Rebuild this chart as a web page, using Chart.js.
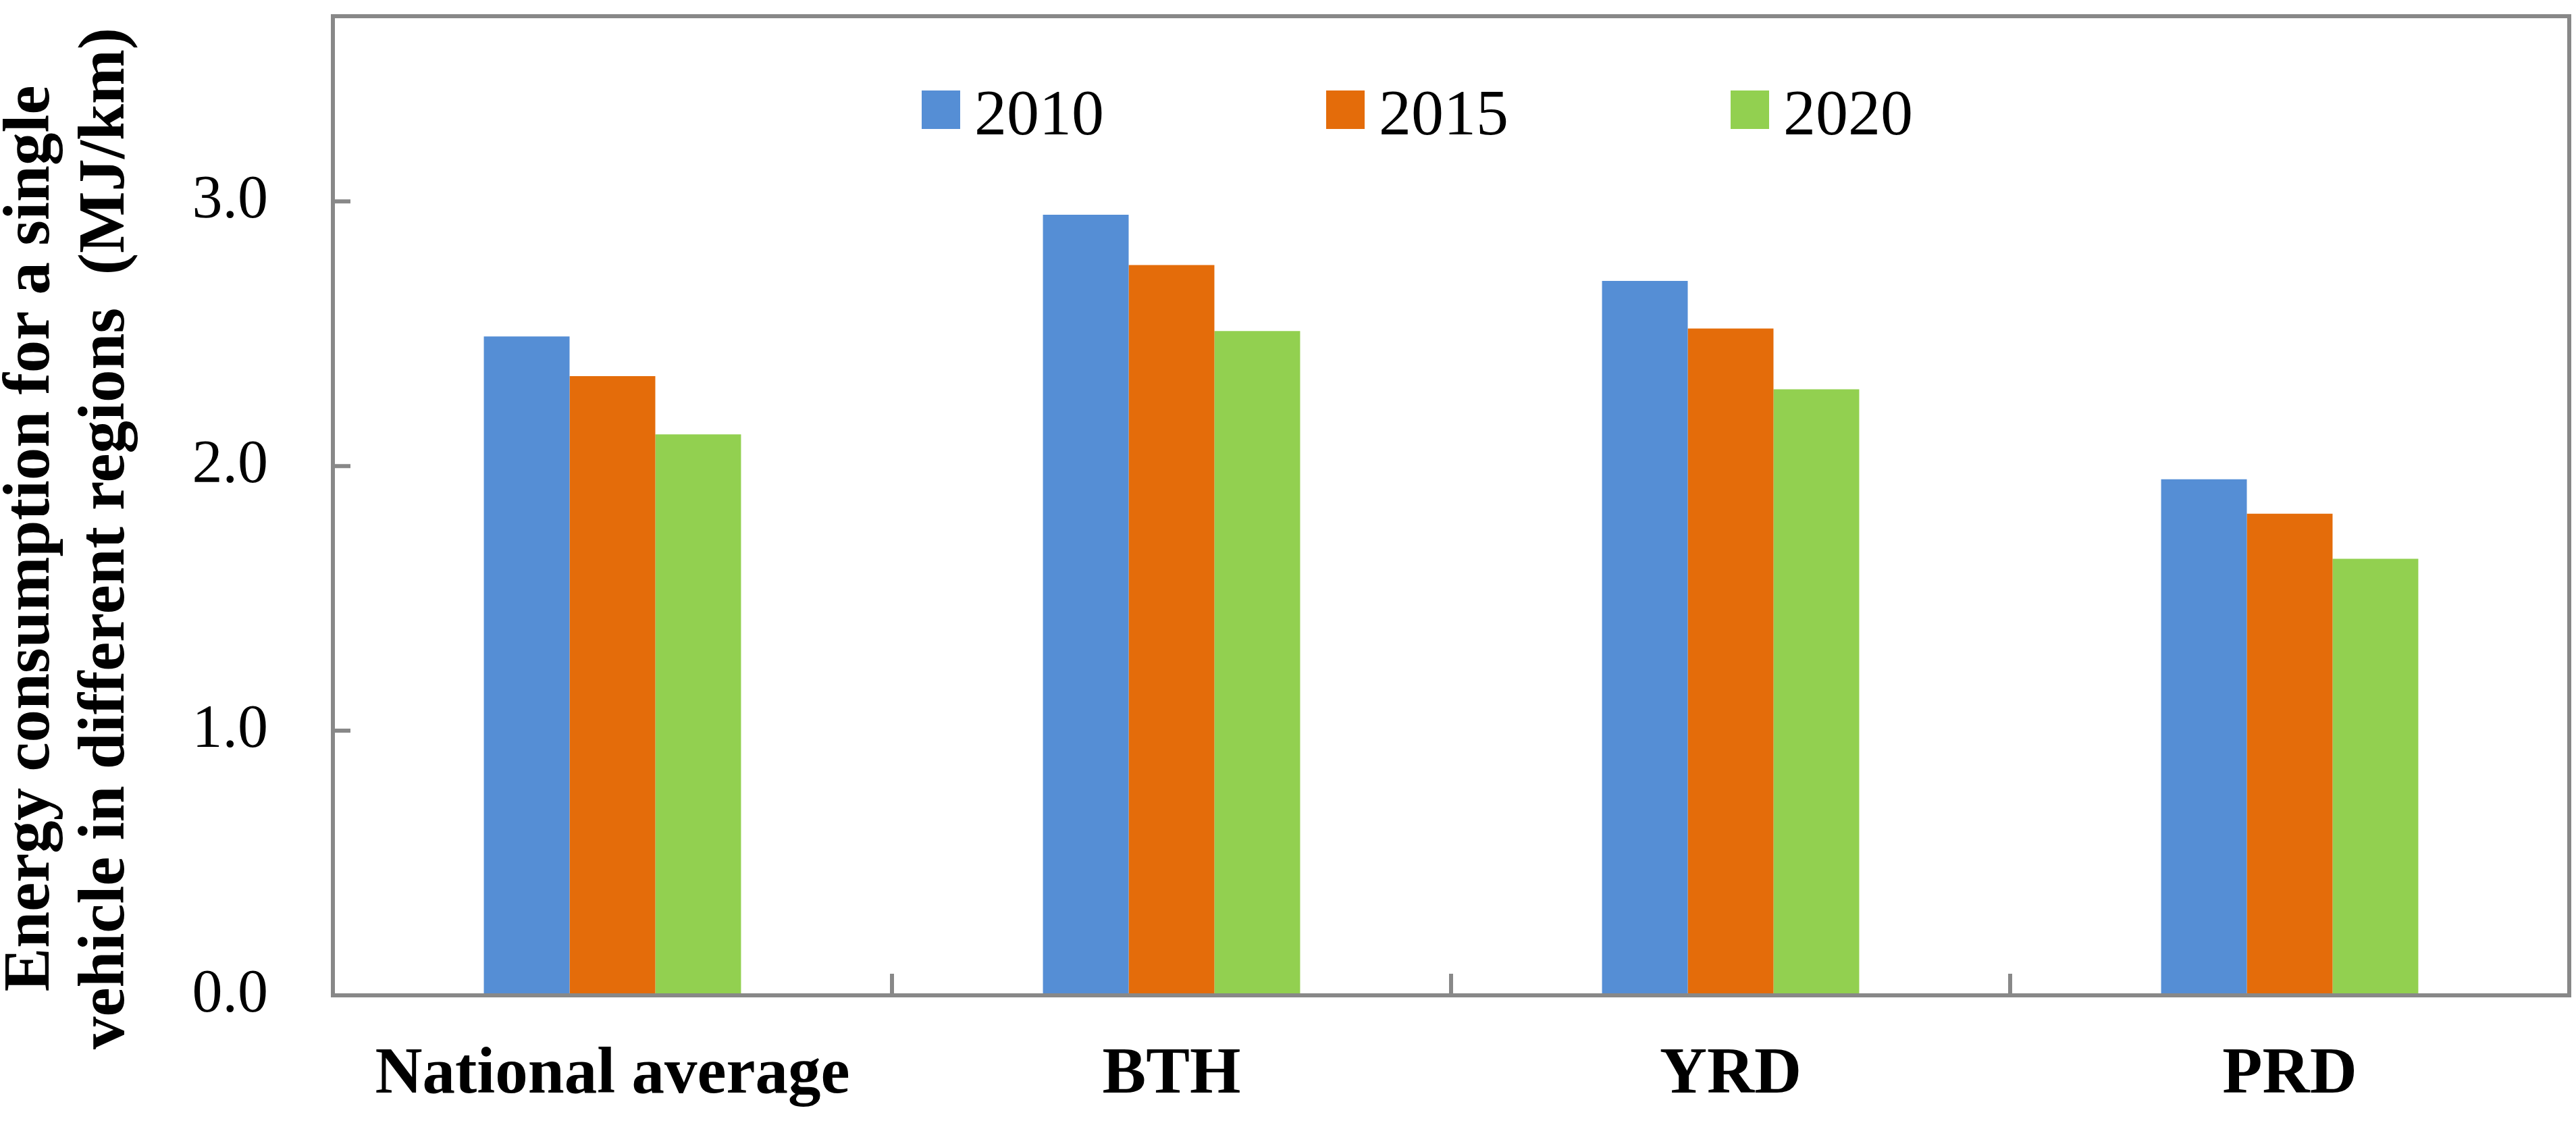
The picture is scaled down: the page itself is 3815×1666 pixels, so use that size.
<!DOCTYPE html>
<html>
<head>
<meta charset="utf-8">
<script src="https://cdn.jsdelivr.net/npm/chart.js@4.4.1/dist/chart.umd.min.js"></script>
<style>
  html, body { margin: 0; padding: 0; background: #fff; }
  canvas { display: block; }
</style>
</head>
<body>
<canvas id="energyChart" width="3815" height="1666"></canvas>
<script>
var regions = ['National average', 'BTH', 'YRD', 'PRD'];
var years = ['2010', '2015', '2020'];
var values2010 = [2.49, 2.95, 2.70, 1.95];
var values2015 = [2.34, 2.76, 2.52, 1.82];
var values2020 = [2.12, 2.51, 2.29, 1.65];
var yTicks = [0, 1, 2, 3];
var yMax = 3.7;

var axisGray = '#888888';
var serif = '"Liberation Serif", "Times New Roman", serif';

// box round the plot area plus the short ticks pointing inwards
var framePlugin = {
  id: 'frame',
  afterDatasetsDraw: function (chart) {
    var ctx = chart.ctx;
    var area = chart.chartArea;
    var x = chart.scales.x, y = chart.scales.y;
    ctx.save();
    ctx.strokeStyle = axisGray;
    ctx.lineWidth = 6;
    ctx.strokeRect(area.left, area.top, area.right - area.left, area.bottom - area.top);
    ctx.beginPath();
    yTicks.forEach(function (v) {
      var py = y.getPixelForValue(v);
      ctx.moveTo(area.left, py);
      ctx.lineTo(area.left + 26, py);
    });
    for (var i = 0; i < regions.length - 1; i++) {
      var px = (x.getPixelForValue(i) + x.getPixelForValue(i + 1)) / 2;
      ctx.moveTo(px, area.bottom);
      ctx.lineTo(px, area.bottom - 32);
    }
    ctx.stroke();
    ctx.restore();
  }
};

// legend sits inside the plot, near the top
var legendPlugin = {
  id: 'insideLegend',
  afterDraw: function (chart) {
    var ctx = chart.ctx;
    ctx.save();
    ctx.font = '96px ' + serif;
    ctx.textBaseline = 'alphabetic';
    chart.data.datasets.forEach(function (ds, i) {
      var bx = 1365 + i * 599;
      ctx.fillStyle = ds.backgroundColor;
      ctx.fillRect(bx, 134, 57, 57);
      ctx.fillStyle = '#000';
      ctx.fillText(ds.label, bx + 78, 199);
    });
    ctx.restore();
  }
};

var energyChart = new Chart(document.getElementById('energyChart'), {
  type: 'bar',
  data: {
    labels: regions,
    datasets: [
      { label: years[0], data: values2010, backgroundColor: '#558ED5', borderWidth: 0 },
      { label: years[1], data: values2015, backgroundColor: '#E46C0A', borderWidth: 0 },
      { label: years[2], data: values2020, backgroundColor: '#92D050', borderWidth: 0 }
    ]
  },
  options: {
    responsive: false,
    devicePixelRatio: 1,
    animation: false,
    layout: { padding: { top: 24, right: 10, left: 0, bottom: 0 } },
    datasets: { bar: { categoryPercentage: 0.46, barPercentage: 1.0 } },
    plugins: {
      legend: { display: false },
      tooltip: { enabled: false }
    },
    scales: {
      x: {
        grid: { display: false, drawTicks: false },
        border: { display: false },
        ticks: {
          color: '#000',
          font: { family: serif, size: 97, weight: 'bold', lineHeight: 1.2 },
          padding: 61,
          maxRotation: 0,
          autoSkip: false
        },
        afterFit: function (s) { s.height = 192; }
      },
      y: {
        min: 0,
        max: yMax,
        grid: { display: false, drawTicks: false },
        border: { display: false },
        afterBuildTicks: function (s) {
          s.ticks = yTicks.map(function (v) { return { value: v }; });
        },
        ticks: {
          color: '#000',
          font: { family: serif, size: 90 },
          padding: 96,
          callback: function (v) { return Number(v).toFixed(1); }
        },
        title: {
          display: true,
          text: ['Energy consumption for a single    ', 'vehicle in different regions  (MJ/km)    '],
          color: '#000',
          font: { family: serif, size: 97, weight: 'bold', lineHeight: 1.144 },
          padding: { top: -9, bottom: 0 }
        },
        afterFit: function (s) {
          s.width = 493;
          s.paddingTop = 0;
          s.paddingBottom = 0;
        }
      }
    }
  },
  plugins: [framePlugin, legendPlugin]
});
</script>
</body>
</html>
